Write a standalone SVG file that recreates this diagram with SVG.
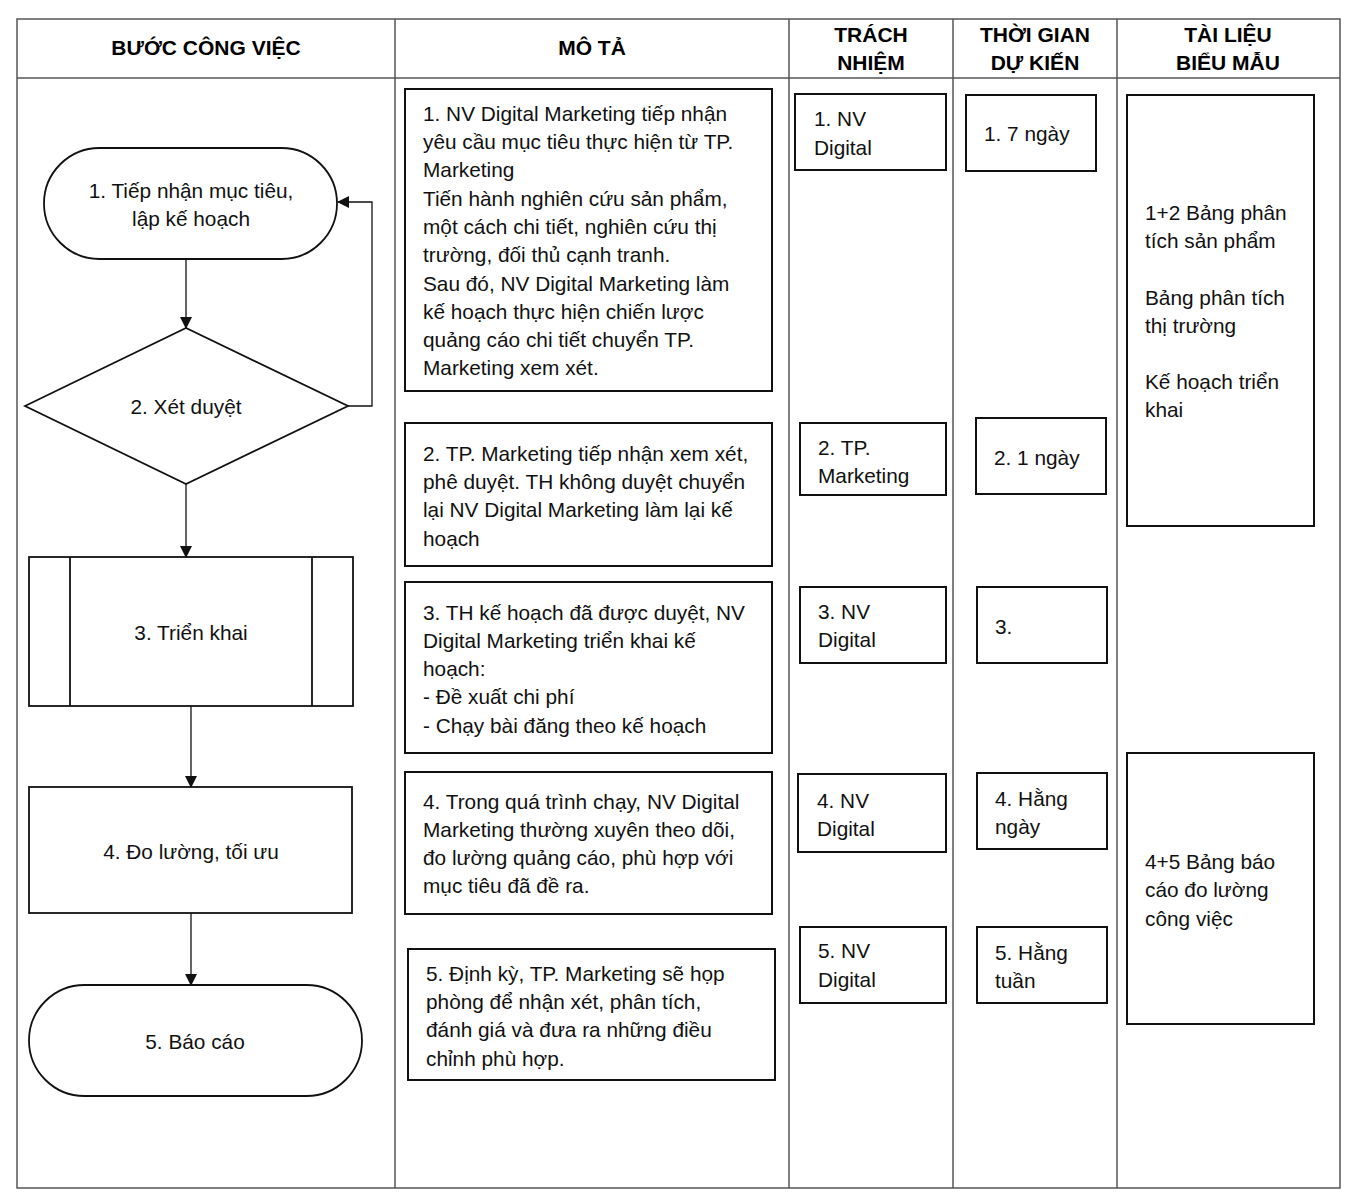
<svg xmlns="http://www.w3.org/2000/svg" width="1357" height="1200" viewBox="0 0 1357 1200">
<style>
.grid{fill:none;stroke:#555;stroke-width:1.5}
.box{fill:#fff;stroke:#111;stroke-width:2}
.shape{fill:#fff;stroke:#111;stroke-width:1.8}
.conn{fill:none;stroke:#111;stroke-width:1.3}
.hd{font-family:"Liberation Sans",Arial,sans-serif;font-weight:bold;font-size:21px;fill:#000;text-anchor:middle}
.t{font-family:"Liberation Sans",Arial,sans-serif;font-size:20.8px;fill:#111}
.c{text-anchor:middle}
</style>
<defs>
<marker id="arr" markerWidth="12" markerHeight="12" viewBox="0 0 12 12" refX="11" refY="6" orient="auto" markerUnits="userSpaceOnUse">
<path d="M0,0 L12,6 L0,12 Z" fill="#111"/>
</marker>
</defs>
<rect width="1357" height="1200" fill="#fff"/>
<g id="table">
<rect class="grid" x="17" y="19" width="1323" height="1169"/>
<line class="grid" x1="17" y1="78" x2="1340" y2="78"/>
<line class="grid" x1="395" y1="19" x2="395" y2="1188"/>
<line class="grid" x1="789" y1="19" x2="789" y2="1188"/>
<line class="grid" x1="953" y1="19" x2="953" y2="1188"/>
<line class="grid" x1="1117" y1="19" x2="1117" y2="1188"/>
<text class="hd" x="206" y="55">BƯỚC CÔNG VIỆC</text>
<text class="hd" x="592" y="55">MÔ TẢ</text>
<text class="hd" x="871" y="42">TRÁCH</text>
<text class="hd" x="871" y="70">NHIỆM</text>
<text class="hd" x="1035" y="42">THỜI GIAN</text>
<text class="hd" x="1035" y="70">DỰ KIẾN</text>
<text class="hd" x="1228" y="42">TÀI LIỆU</text>
<text class="hd" x="1228" y="70">BIỂU MẪU</text>
</g>
<g id="connectors">
<line class="conn" x1="186" y1="259" x2="186" y2="328" marker-end="url(#arr)"/>
<polyline class="conn" points="348,406 372,406 372,202 338,202" marker-end="url(#arr)"/>
<line class="conn" x1="186" y1="484" x2="186" y2="557" marker-end="url(#arr)"/>
<line class="conn" x1="191" y1="706" x2="191" y2="787" marker-end="url(#arr)"/>
<line class="conn" x1="191" y1="913" x2="191" y2="985" marker-end="url(#arr)"/>
</g>
<g id="step1">
<rect class="shape" x="44" y="148" width="293" height="111" rx="55.5"/>
<text class="t c" x="191" y="198">1. Tiếp nhận mục tiêu,</text>
<text class="t c" x="191" y="226">lập kế hoạch</text>
</g>
<g id="step2">
<polygon class="shape" points="25,406 186,328 348,406 186,484"/>
<text class="t c" x="186" y="414">2. Xét duyệt</text>
</g>
<g id="step3">
<rect class="shape" x="29" y="557" width="324" height="149"/>
<line class="shape" x1="70" y1="557" x2="70" y2="706"/>
<line class="shape" x1="312" y1="557" x2="312" y2="706"/>
<text class="t c" x="191" y="640">3. Triển khai</text>
</g>
<g id="step4">
<rect class="shape" x="29" y="787" width="323" height="126"/>
<text class="t c" x="191" y="859">4. Đo lường, tối ưu</text>
</g>
<g id="step5">
<rect class="shape" x="29" y="985" width="333" height="111" rx="55.5"/>
<text class="t c" x="195" y="1049">5. Báo cáo</text>
</g>
<g id="desc1">
<rect class="box" x="405" y="89" width="367" height="302"/>
<text class="t" x="423" y="121">1. NV Digital Marketing tiếp nhận</text>
<text class="t" x="423" y="149">yêu cầu mục tiêu thực hiện từ TP.</text>
<text class="t" x="423" y="177">Marketing</text>
<text class="t" x="423" y="206">Tiến hành nghiên cứu sản phẩm,</text>
<text class="t" x="423" y="234">một cách chi tiết, nghiên cứu thị</text>
<text class="t" x="423" y="262">trường, đối thủ cạnh tranh.</text>
<text class="t" x="423" y="291">Sau đó, NV Digital Marketing làm</text>
<text class="t" x="423" y="319">kế hoạch thực hiện chiến lược</text>
<text class="t" x="423" y="347">quảng cáo chi tiết chuyển TP.</text>
<text class="t" x="423" y="375">Marketing xem xét.</text>
</g>
<g id="desc2">
<rect class="box" x="405" y="423" width="367" height="143"/>
<text class="t" x="423" y="461">2. TP. Marketing tiếp nhận xem xét,</text>
<text class="t" x="423" y="489">phê duyệt. TH không duyệt chuyển</text>
<text class="t" x="423" y="517">lại NV Digital Marketing làm lại kế</text>
<text class="t" x="423" y="546">hoạch</text>
</g>
<g id="desc3">
<rect class="box" x="405" y="582" width="367" height="171"/>
<text class="t" x="423" y="620">3. TH kế hoạch đã được duyệt, NV</text>
<text class="t" x="423" y="648">Digital Marketing triển khai kế</text>
<text class="t" x="423" y="676">hoạch:</text>
<text class="t" x="423" y="704">- Đề xuất chi phí</text>
<text class="t" x="423" y="733">- Chạy bài đăng theo kế hoạch</text>
</g>
<g id="desc4">
<rect class="box" x="405" y="772" width="367" height="142"/>
<text class="t" x="423" y="809">4. Trong quá trình chạy, NV Digital</text>
<text class="t" x="423" y="837">Marketing thường xuyên theo dõi,</text>
<text class="t" x="423" y="865">đo lường quảng cáo, phù hợp với</text>
<text class="t" x="423" y="893">mục tiêu đã đề ra.</text>
</g>
<g id="desc5">
<rect class="box" x="408" y="949" width="367" height="131"/>
<text class="t" x="426" y="981">5. Định kỳ, TP. Marketing sẽ họp</text>
<text class="t" x="426" y="1009">phòng để nhận xét, phân tích,</text>
<text class="t" x="426" y="1037">đánh giá và đưa ra những điều</text>
<text class="t" x="426" y="1066">chỉnh phù hợp.</text>
</g>
<g id="resp1">
<rect class="box" x="795" y="94" width="151" height="76"/>
<text class="t" x="814" y="126">1. NV</text>
<text class="t" x="814" y="155">Digital</text>
</g>
<g id="resp2">
<rect class="box" x="800" y="423" width="146" height="72"/>
<text class="t" x="818" y="455">2. TP.</text>
<text class="t" x="818" y="483">Marketing</text>
</g>
<g id="resp3">
<rect class="box" x="800" y="587" width="146" height="76"/>
<text class="t" x="818" y="619">3. NV</text>
<text class="t" x="818" y="647">Digital</text>
</g>
<g id="resp4">
<rect class="box" x="798" y="774" width="148" height="78"/>
<text class="t" x="817" y="808">4. NV</text>
<text class="t" x="817" y="836">Digital</text>
</g>
<g id="resp5">
<rect class="box" x="800" y="927" width="146" height="76"/>
<text class="t" x="818" y="958">5. NV</text>
<text class="t" x="818" y="987">Digital</text>
</g>
<g id="time1">
<rect class="box" x="966" y="95" width="130" height="76"/>
<text class="t" x="984" y="141">1. 7 ngày</text>
</g>
<g id="time2">
<rect class="box" x="976" y="418" width="130" height="76"/>
<text class="t" x="994" y="465">2. 1 ngày</text>
</g>
<g id="time3">
<rect class="box" x="977" y="587" width="130" height="76"/>
<text class="t" x="995" y="634">3.</text>
</g>
<g id="time4">
<rect class="box" x="977" y="773" width="130" height="76"/>
<text class="t" x="995" y="806">4. Hằng</text>
<text class="t" x="995" y="834">ngày</text>
</g>
<g id="time5">
<rect class="box" x="977" y="927" width="130" height="76"/>
<text class="t" x="995" y="960">5. Hằng</text>
<text class="t" x="995" y="988">tuần</text>
</g>
<g id="doc1">
<rect class="box" x="1127" y="95" width="187" height="431"/>
<text class="t" x="1145" y="220">1+2 Bảng phân</text>
<text class="t" x="1145" y="248">tích sản phẩm</text>
<text class="t" x="1145" y="305">Bảng phân tích</text>
<text class="t" x="1145" y="333">thị trường</text>
<text class="t" x="1145" y="389">Kế hoạch triển</text>
<text class="t" x="1145" y="417">khai</text>
</g>
<g id="doc2">
<rect class="box" x="1127" y="753" width="187" height="271"/>
<text class="t" x="1145" y="869">4+5 Bảng báo</text>
<text class="t" x="1145" y="897">cáo đo lường</text>
<text class="t" x="1145" y="926">công việc</text>
</g>
</svg>
